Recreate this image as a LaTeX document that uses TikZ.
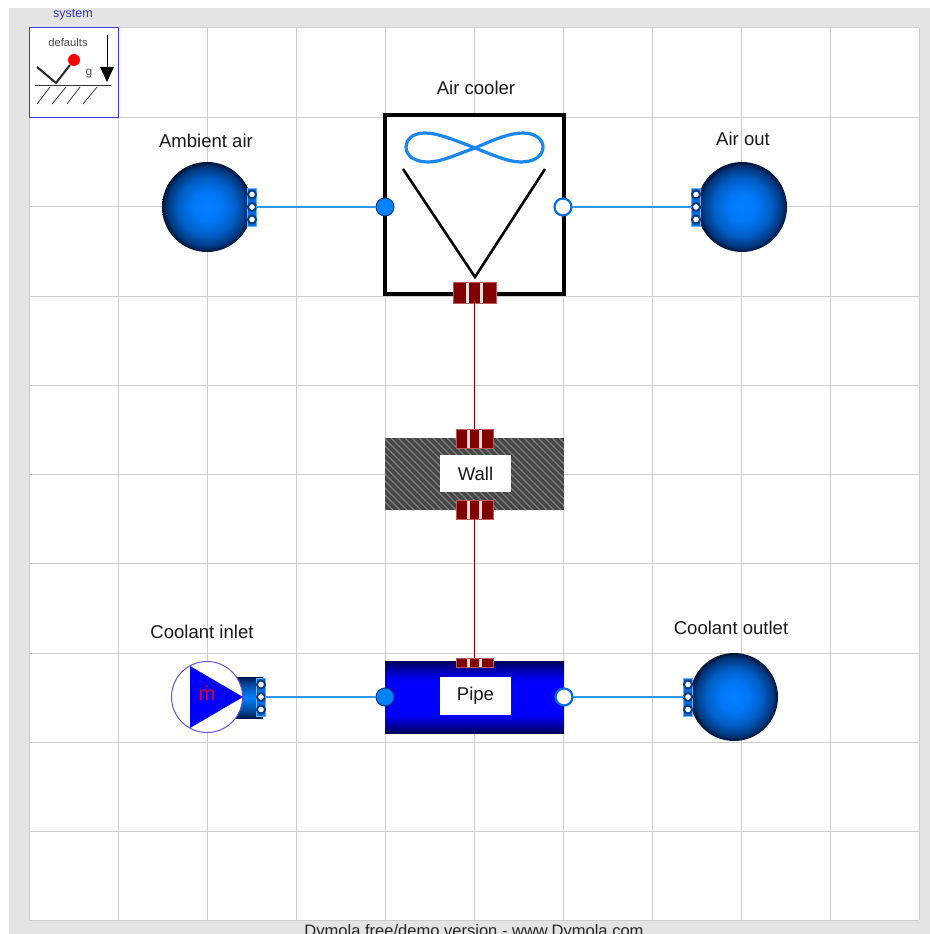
\documentclass[tikz,border=0pt]{standalone}
\usepackage{fontspec}
\setmainfont{Liberation Sans}
\newdimen\pxu \pxu=0.75pt
\definecolor{gridc}{RGB}{205,205,205}
\definecolor{pagec}{RGB}{228,228,228}
\definecolor{flowc}{RGB}{0,127,255}
\definecolor{linec}{RGB}{50,150,240}
\definecolor{ringc}{RGB}{10,60,130}
\definecolor{heatc}{RGB}{128,0,0}
\definecolor{heatedge}{RGB}{190,90,90}
\definecolor{iconblue}{RGB}{60,60,225}
\definecolor{pumpedge}{RGB}{100,85,215}
\definecolor{fanc}{RGB}{25,135,240}
\definecolor{wallc}{RGB}{70,70,70}
\definecolor{hatchc}{RGB}{125,125,125}
\pgfdeclareradialshading{ballshade}{\pgfpointorigin}{rgb(0bp)=(0,0.5,1); rgb(8bp)=(0,0.47,0.97); rgb(16bp)=(0,0.37,0.78); rgb(22bp)=(0,0.22,0.5); rgb(25bp)=(0,0.08,0.22); rgb(50bp)=(0,0.08,0.22)}
\pgfdeclareverticalshading{pipeshade}{100bp}{rgb(0bp)=(0,0,0.35); rgb(25bp)=(0,0,0.35); rgb(30bp)=(0,0,0.62); rgb(37bp)=(0,0,0.95); rgb(42bp)=(0,0,1); rgb(58bp)=(0,0,1); rgb(63bp)=(0,0,0.95); rgb(70bp)=(0,0,0.62); rgb(75bp)=(0,0,0.35); rgb(100bp)=(0,0,0.35)}
\pgfdeclareverticalshading{tubeshade}{100bp}{rgb(0bp)=(0,0.1,0.3); rgb(25bp)=(0,0.1,0.3); rgb(35bp)=(0,0.3,0.65); rgb(50bp)=(0,0.5,1); rgb(65bp)=(0,0.3,0.65); rgb(75bp)=(0,0.1,0.3); rgb(100bp)=(0,0.1,0.3)}
\tikzset{
  plainbox/.style={rectangle,inner sep=0pt,outer sep=0pt},
  labeltext/.style={inner sep=0pt,outer sep=0pt,font=\fontsize{13.9}{16}\selectfont,text=black!90},
  ball/.style={circle,inner sep=0pt,outer sep=0pt,minimum size=#1\pxu,shading=ballshade},
  flowin/.style={circle,inner sep=0pt,outer sep=0pt,minimum size=18\pxu,fill=flowc,draw=ringc,line width=1\pxu},
  flowout/.style={circle,inner sep=0pt,outer sep=0pt,minimum size=17\pxu,fill=white,draw=flowc!75!ringc,line width=2.2\pxu},
  smallport/.style={circle,inner sep=0pt,outer sep=0pt,minimum size=8\pxu,fill=white,draw=ringc,line width=2\pxu},
  portback/.style={plainbox,fill=flowc!75!ringc,draw=flowc!60,line width=.6\pxu,minimum width=9\pxu,minimum height=38\pxu},
  heatbox/.style={plainbox,fill=heatc,draw=heatedge,line width=1\pxu},
  flowline/.style={draw=linec,line width=1.2\pxu},
  heatline/.style={draw=heatc,line width=1\pxu},
  gridline/.style={draw=gridc,line width=1\pxu},
  whitelabel/.style={plainbox,fill=white,minimum width=71\pxu,minimum height=37\pxu,labeltext},
}
% three round ports on a blue strip: name, x, y
\newcommand{\tripleport}[3]{%
  \node[portback] (#1back) at (#2,#3) {};
  \node[smallport] (#1a) at (#2,#3-12.5) {};
  \node[smallport] (#1b) at (#2,#3) {};
  \node[smallport] (#1c) at (#2,#3+12.5) {};
}
% heat port with white stripes: name, x, y, width, height
\newcommand{\heatport}[5]{%
  \node[heatbox,minimum width=#4\pxu,minimum height=#5\pxu] (#1) at (#2,#3) {};
  \fill[white!88!heatc] (#2-#4*0.17-1.5,#3-#5/2+.5) rectangle (#2-#4*0.17+1.5,#3+#5/2-.5);
  \fill[white!88!heatc] (#2+#4*0.17-1.5,#3-#5/2+.5) rectangle (#2+#4*0.17+1.5,#3+#5/2-.5);
}
\begin{document}
\begin{tikzpicture}[x=0.75pt,y=-0.75pt]
\useasboundingbox (0,0) rectangle (930,934);
\clip (0,0) rectangle (930,934);
\fill[pagec] (9,8) rectangle (930,934);
\fill[white] (29,28) rectangle (919,920);
% grid
\foreach \gx in {29,118,207,296,385,474,563,652,741,830,919}
  \draw[gridline] (\gx,28) -- (\gx,920);
\foreach \gy in {28,118,207,296,385,474,563,653,742,831,920}
  \draw[gridline] (29,\gy) -- (919,\gy);
% system icon
\node[font=\fontsize{9.4}{10}\selectfont,text=iconblue!85!black,inner sep=0pt] (systemlabel) at (73,14.5) {system};
\node[plainbox,draw=iconblue,fill=white,line width=1\pxu,minimum width=89\pxu,minimum height=90\pxu] (systembox) at (73.5,73) {};
\node[font=\fontsize{8.4}{10}\selectfont,text=black!70,inner sep=0pt] (defaults) at (68,43) {defaults};
\node[font=\fontsize{9}{10}\selectfont,text=black!65,inner sep=0pt] (glabel) at (89,74) {g};
\draw[line width=2\pxu,black!85] (37,67) -- (56,83) -- (70,65);
\node[circle,fill=red,inner sep=0pt,minimum size=12\pxu] (redball) at (74,60) {};
\draw[line width=1\pxu,black!80] (35,86) -- (111,86);
\foreach \xa/\xb in {37/50,52/66,67/80,83/97}
  \draw[line width=.8\pxu,black!75] (\xa,104) -- (\xb,87);
\draw[line width=1\pxu,black] (107,35) -- (107,68);
\fill[black] (100,67) -- (114,67) -- (107,82) -- cycle;
% balls
\node[ball=90] (ambient) at (207,207) {};
\tripleport{ambp}{252}{207}
\node[ball=90] (airout) at (742,207) {};
\tripleport{outp}{696}{207}
\node[ball=88] (coolout) at (734,697) {};
\tripleport{coolp}{688}{697}
% air cooler
\node[plainbox,draw=black,fill=white,line width=4\pxu,minimum width=179\pxu,minimum height=179\pxu] (cooler) at (474.5,204.5) {};
\draw[fanc,line width=3.2\pxu,line join=round] (475,148)
  .. controls (452,139) and (437,133) .. (425,133)
  .. controls (412,133) and (406,140) .. (406,147)
  .. controls (406,156) and (415,162) .. (428,162)
  .. controls (441,162) and (455,155) .. (475,148)
  .. controls (495,139) and (510,133) .. (523,133)
  .. controls (536,133) and (543,140) .. (543,147)
  .. controls (543,156) and (534,162) .. (521,162)
  .. controls (508,162) and (493,155) .. (475,148);
\draw[black,line width=2.6\pxu] (403,169) -- (475,277) -- (545,169);
\node[flowin] (coolerin) at (385,207) {};
\node[flowout] (coolerout) at (563,207) {};
\heatport{coolerheat}{474.5}{292.5}{43}{21}
% wall
\node[plainbox,fill=wallc,minimum width=179\pxu,minimum height=72\pxu] (wall) at (474.5,474) {};
\begin{scope}
  \clip (385,438) rectangle (564,510);
  \foreach \hx in {300,307,...,600}
    \draw[hatchc,line width=1.1\pxu] (\hx,438) -- (\hx+72,510);
\end{scope}
\node[whitelabel,minimum height=37\pxu] (walllabel) at (475.5,473.5) {Wall};
\heatport{wallheattop}{474.5}{438.5}{37}{19}
\heatport{wallheatbot}{474.5}{509.5}{37}{19}
% pipe
\node[plainbox,shading=pipeshade,minimum width=179\pxu,minimum height=72\pxu] (pipe) at (474.5,697) {};
\node[whitelabel,minimum height=38\pxu] (pipelabel) at (475.5,696) {Pipe};
\heatport{pipeheat}{474.5}{662.5}{37}{9}
\node[flowin] (pipein) at (385,697) {};
\node[flowout] (pipeout) at (564,697) {};
% pump
\node[plainbox,shading=tubeshade,minimum width=28\pxu,minimum height=41\pxu] (pumptube) at (249,697.5) {};
\tripleport{pumpp}{261}{697}
\node[circle,inner sep=0pt,outer sep=0pt,fill=white,draw=pumpedge,line width=1\pxu,minimum size=71\pxu] (pump) at (207,697) {};
\fill[blue] (190,666) -- (190,728) -- (243,697) -- cycle;
\node[font=\fontsize{15}{17}\selectfont,text={rgb,255:red,215;green,0;blue,60},inner sep=0pt] (mdot) at (207,693) {ṁ};
% connectors
\draw[flowline] (ambpb) -- (coolerin);
\draw[flowline] (coolerout) -- (outpb);
\draw[flowline] (pumppb) -- (pipein);
\draw[flowline] (pipeout) -- (coolpb);
\draw[heatline] (coolerheat.south) -- (wallheattop.north);
\draw[heatline] (wallheatbot.south) -- (pipeheat.north);
% labels
\node[labeltext] (lcooler) at (476,88) {Air cooler};
\node[labeltext] (lambient) at (206,141) {Ambient air};
\node[labeltext] (lairout) at (743,139) {Air out};
\node[labeltext] (linlet) at (202,632) {Coolant inlet};
\node[labeltext] (loutlet) at (731,628) {Coolant outlet};
\node[anchor=base,inner sep=0pt,font=\fontsize{12.4}{14}\selectfont,text=black!85] (footer) at (474,936) {Dymola free/demo version - www.Dymola.com};
\end{tikzpicture}
\end{document}
